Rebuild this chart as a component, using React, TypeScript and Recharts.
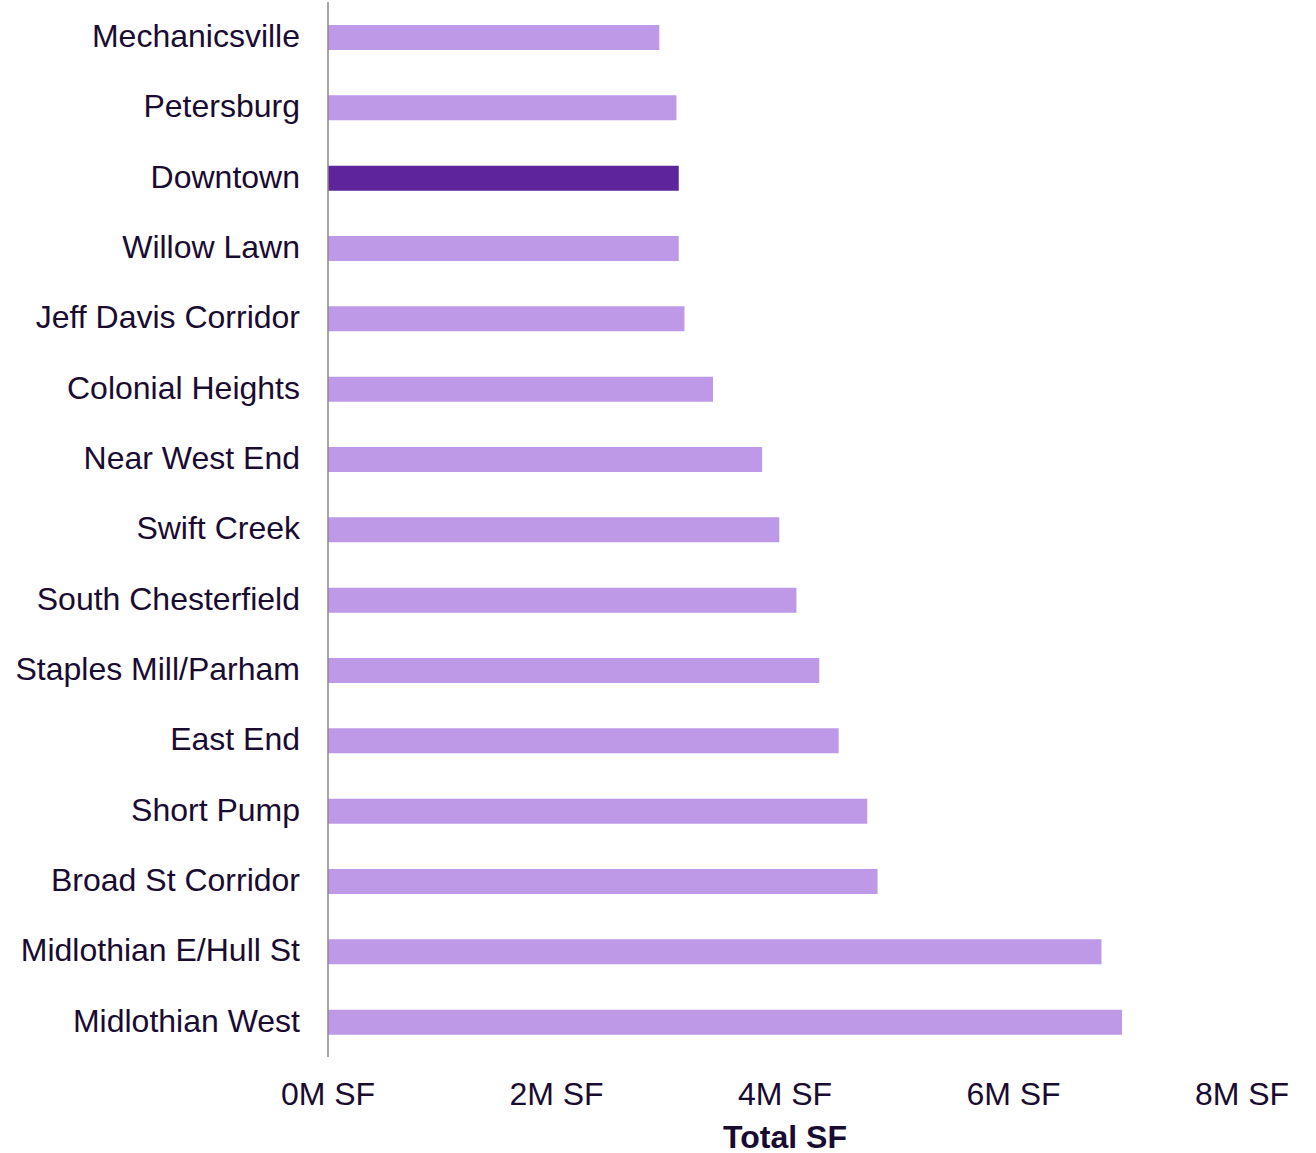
import { BarChart, Bar, XAxis, YAxis, Cell } from "recharts";

// Submarkets, top to bottom as shown
const submarkets = [
  "Mechanicsville",
  "Petersburg",
  "Downtown",
  "Willow Lawn",
  "Jeff Davis Corridor",
  "Colonial Heights",
  "Near West End",
  "Swift Creek",
  "South Chesterfield",
  "Staples Mill/Parham",
  "East End",
  "Short Pump",
  "Broad St Corridor",
  "Midlothian E/Hull St",
  "Midlothian West",
];

// Total SF in millions
const totalSF = [2.9, 3.05, 3.07, 3.07, 3.12, 3.37, 3.8, 3.95, 4.1, 4.3, 4.47, 4.72, 4.81, 6.77, 6.95];

const xTicks = [0, 2, 4, 6, 8];
const highlight = "Downtown";

const TEXT = "#1a0b30";
const BAR = "#bd99e8";
const BAR_HI = "#5e249c";

const chartData = submarkets.map((name, i) => ({ name, value: totalSF[i] }));

export default function App() {
  return (
    <div style={{ position: "absolute", left: 0, top: 0, fontFamily: "'Liberation Sans', Arial, sans-serif" }}>
      <BarChart
        width={1316}
        height={1153}
        layout="vertical"
        data={chartData}
        margin={{ top: 2, right: 74, bottom: 0, left: 0 }}
      >
        <XAxis
          type="number"
          domain={[0, 8]}
          ticks={xTicks}
          tickFormatter={(v: number) => `${v}M SF`}
          axisLine={false}
          tickLine={false}
          tickSize={0}
          tickMargin={25}
          height={96}
          tick={{ fill: TEXT, fontSize: 32 }}
          label={{ value: "Total SF", position: "insideBottom", offset: 5, fill: TEXT, fontSize: 32, fontWeight: 700 }}
        />
        <YAxis
          type="category"
          dataKey="name"
          width={328}
          axisLine={{ stroke: "#8a8a8a", strokeWidth: 1.5 }}
          tickLine={false}
          tickSize={0}
          tickMargin={28}
          interval={0}
          tick={{ fill: TEXT, fontSize: 32, dy: -1.5 }}
        />
        <Bar dataKey="value" barSize={25} isAnimationActive={false}>
          {chartData.map((entry, index) => (
            <Cell key={`cell-${index}`} fill={entry.name === highlight ? BAR_HI : BAR} />
          ))}
        </Bar>
      </BarChart>
    </div>
  );
}
